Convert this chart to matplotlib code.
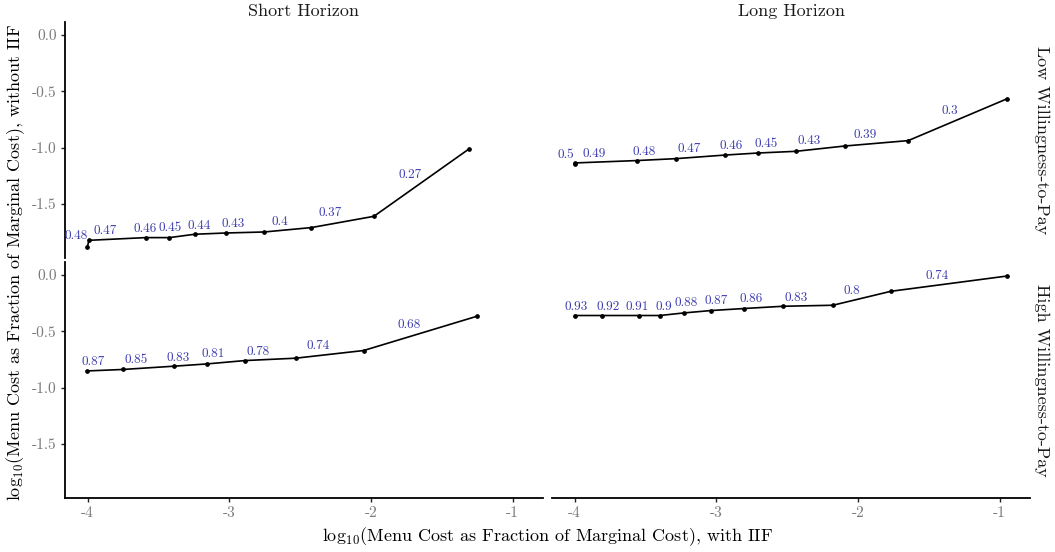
import matplotlib
matplotlib.use("Agg")
import matplotlib.pyplot as plt

plt.rcParams['font.family'] = ['cmr10', 'DejaVu Serif']
plt.rcParams['mathtext.fontset'] = 'cm'
plt.rcParams['axes.unicode_minus'] = False

# ---- data ----
col_titles = ["Short Horizon", "Long Horizon"]
row_titles = ["Low Willingness-to-Pay", "High Willingness-to-Pay"]

# Short horizon, low WTP
sl_x = [-4.002, -3.991, -3.591, -3.423, -3.243, -3.024, -2.753, -2.421, -1.979, -1.311]
sl_y = [-1.882, -1.823, -1.799, -1.799, -1.769, -1.758, -1.749, -1.710, -1.610, -1.015]
sl_lab = ["0.48", "0.47", "0.46", "0.45", "0.44", "0.43", "0.4", "0.37", "0.27"]
sl_lx = [-4.08, -3.875, -3.591, -3.421, -3.214, -2.970, -2.645, -2.287, -1.727]
sl_ly = [-1.787, -1.740, -1.722, -1.713, -1.696, -1.681, -1.660, -1.583, -1.240]

# Long horizon, low WTP
ll_x = [-4.000, -3.995, -3.560, -3.285, -2.937, -2.706, -2.438, -2.094, -1.645, -0.944]
ll_y = [-1.142, -1.136, -1.115, -1.098, -1.066, -1.048, -1.033, -0.986, -0.938, -0.565]
ll_lab = ["0.5", "0.49", "0.48", "0.47", "0.46", "0.45", "0.43", "0.39", "0.3"]
ll_lx = [-4.064, -3.859, -3.506, -3.190, -2.898, -2.645, -2.342, -1.947, -1.351]
ll_ly = [-1.068, -1.053, -1.039, -1.015, -0.986, -0.971, -0.941, -0.885, -0.678]

# Short horizon, high WTP
sh_x = [-4.002, -3.751, -3.391, -3.160, -2.890, -2.532, -2.052, -1.250]
sh_y = [-0.852, -0.839, -0.810, -0.790, -0.760, -0.739, -0.671, -0.366]
sh_lab = ["0.87", "0.85", "0.83", "0.81", "0.78", "0.74", "0.68"]
sh_lx = [-3.963, -3.657, -3.361, -3.111, -2.793, -2.375, -1.732]
sh_ly = [-0.772, -0.757, -0.733, -0.704, -0.680, -0.633, -0.446]

# Long horizon, high WTP
lh_x = [-4.000, -3.809, -3.548, -3.398, -3.228, -3.038, -2.805, -2.530, -2.177, -1.767, -0.944]
lh_y = [-0.360, -0.360, -0.360, -0.360, -0.337, -0.316, -0.298, -0.278, -0.269, -0.145, -0.009]
lh_lab = ["0.93", "0.92", "0.91", "0.9", "0.88", "0.87", "0.86", "0.83", "0.8", "0.74"]
lh_lx = [-3.988, -3.762, -3.557, -3.370, -3.214, -3.003, -2.751, -2.435, -2.041, -1.440]
lh_ly = [-0.287, -0.287, -0.287, -0.287, -0.251, -0.233, -0.213, -0.204, -0.138, -0.005]

x_ticks = [-4, -3, -2, -1]
x_ticklabels = ["-4", "-3", "-2", "-1"]
y_ticks = [0.0, -0.5, -1.0, -1.5]
y_ticklabels = ["0.0", "-0.5", "-1.0", "-1.5"]

panels = [
    [(sl_x, sl_y, sl_lab, sl_lx, sl_ly), (ll_x, ll_y, ll_lab, ll_lx, ll_ly)],
    [(sh_x, sh_y, sh_lab, sh_lx, sh_ly), (lh_x, lh_y, lh_lab, lh_lx, lh_ly)],
]

W, H = 1055, 552
fig = plt.figure(figsize=(W / 100, H / 100), dpi=100)

col_px = [(65, 543), (552, 1030)]
row_px = [(22, 258), (262, 498)]

label_color = "#3c3cb0"
tick_color = "#7a7a7a"

for r in range(2):
    for c in range(2):
        x0, x1 = col_px[c]
        y0, y1 = row_px[r]
        ax = fig.add_axes([x0 / W, 1 - y1 / H, (x1 - x0) / W, (y1 - y0) / H])
        xs, ys, labs, lxs, lys = panels[r][c]
        ax.plot(xs, ys, color="black", lw=1.2, marker="o", ms=2.4, zorder=3)
        for t, lx, ly in zip(labs, lxs, lys):
            ax.text(lx, ly, t, color=label_color, fontsize=9.5,
                    ha="center", va="center", zorder=4)
        ax.set_xlim(-4.16, -0.785)
        ax.set_ylim(-1.98, 0.115)
        for s in ["top", "right"]:
            ax.spines[s].set_visible(False)
        ax.spines["left"].set_visible(c == 0)
        ax.spines["bottom"].set_visible(r == 1)
        ax.spines["left"].set_linewidth(1.3)
        ax.spines["bottom"].set_linewidth(1.3)
        if c == 0:
            ax.set_yticks(y_ticks)
            ax.set_yticklabels(y_ticklabels)
        else:
            ax.set_yticks([])
        if r == 1:
            ax.set_xticks(x_ticks)
            ax.set_xticklabels(x_ticklabels)
        else:
            ax.set_xticks([])
        ax.tick_params(axis="both", length=3, width=1.0, color="#222222",
                       labelcolor=tick_color, labelsize=11, pad=3)
        ax.patch.set_alpha(0)
        if r == 0:
            fig.text((x0 + x1) / 2 / W, 1 - 11 / H, col_titles[c],
                     ha="center", va="center", fontsize=13, color="#1a1a1a")
        if c == 1:
            fig.text(1042 / W, 1 - (y0 + y1) / 2 / H, row_titles[r],
                     ha="center", va="center", rotation=-90, fontsize=13,
                     color="#1a1a1a")

fig.text(548 / W, 1 - 537 / H,
         r"log$_{10}$(Menu Cost as Fraction of Marginal Cost), with IIF",
         ha="center", va="center", fontsize=13)
fig.text(16 / W, 1 - 262 / H,
         r"log$_{10}$(Menu Cost as Fraction of Marginal Cost), without IIF",
         ha="center", va="center", rotation=90, fontsize=13)

fig.savefig("out.png", dpi=100, facecolor="white")
